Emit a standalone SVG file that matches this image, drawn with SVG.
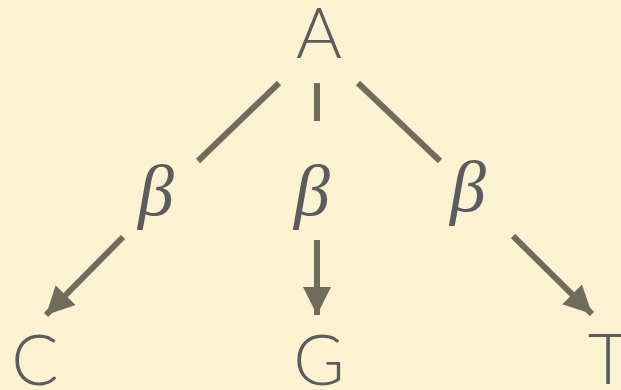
<svg xmlns="http://www.w3.org/2000/svg" width="621" height="390" viewBox="0 0 621 390">
  <style>
    .node { font-family: Lato, "Open Sans", "Liberation Sans", sans-serif; font-weight: 300; font-size: 70px; fill: #5c5c5f; }
    .lbl { font-family: "Liberation Serif", "DejaVu Serif", serif; font-style: italic; font-size: 72px; fill: #5c5c5f; }
    .edge { stroke: #716b5c; stroke-width: 6; fill: none; }
  </style>
  <defs>
    <marker id="head" markerUnits="userSpaceOnUse" markerWidth="30" markerHeight="28" refX="28" refY="14" orient="auto">
      <path d="M0,0 L28,14 L0,28 Z" fill="#716b5c"/>
    </marker>
  </defs>
  <rect width="621" height="390" fill="#fbf2d2"/>
  <g id="connectors">
    <line class="edge" x1="279" y1="83" x2="198" y2="161"/>
    <line class="edge" x1="123" y1="237" x2="46" y2="315" marker-end="url(#head)"/>
    <line class="edge" x1="317" y1="83" x2="317" y2="121"/>
    <line class="edge" x1="317" y1="240" x2="317" y2="315" marker-end="url(#head)"/>
    <line class="edge" x1="358" y1="83" x2="440" y2="161"/>
    <line class="edge" x1="513" y1="236" x2="592" y2="314" marker-end="url(#head)"/>
    <text class="lbl" x="138" y="215">β</text>
    <text class="lbl" x="294" y="215">β</text>
    <text class="lbl" x="450" y="211">β</text>
  </g>
  <g id="A"><text class="node" x="319" y="58" text-anchor="middle">A</text></g>
  <g id="C"><text class="node" x="35" y="385" text-anchor="middle">C</text></g>
  <g id="G"><text class="node" x="319" y="385" text-anchor="middle">G</text></g>
  <g id="T"><text class="node" x="608" y="384" text-anchor="middle">T</text></g>
</svg>
